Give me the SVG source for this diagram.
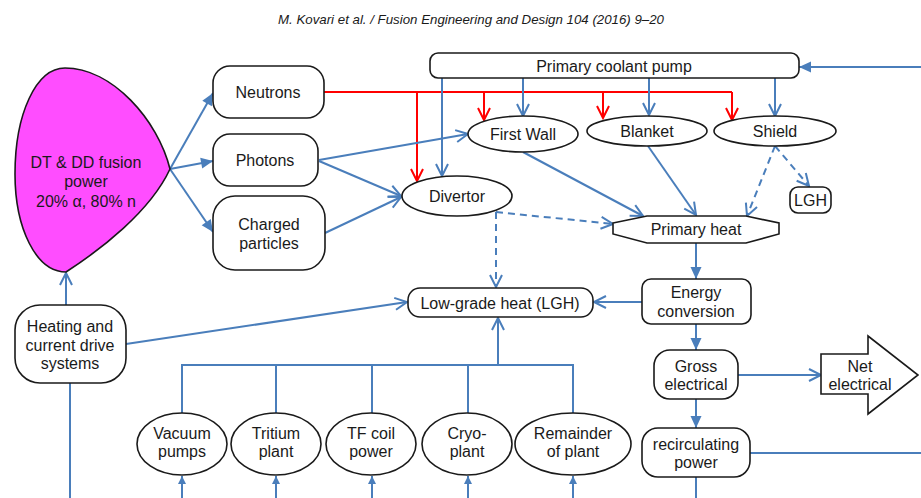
<svg xmlns="http://www.w3.org/2000/svg" width="921" height="498" viewBox="0 0 921 498">
<style>
text{font-family:"Liberation Sans",Arial,sans-serif;font-size:16px;fill:#1a1a1a;text-anchor:middle}
.hdr{font-size:13px;font-style:italic}
.n{fill:#fff;stroke:#1a1a1a;stroke-width:1.6}
.b{fill:none;stroke:#4a7ebb;stroke-width:2}
.r{fill:none;stroke:#ff0000;stroke-width:2}
.d{stroke-dasharray:7 5}
</style>
<defs>
<marker id="av" markerUnits="userSpaceOnUse" markerWidth="16" markerHeight="16" refX="13" refY="7" orient="auto" overflow="visible"><path d="M1,1 L13,7 L1,13" fill="none" stroke="#4a7ebb" stroke-width="2"/></marker>
<marker id="rv" markerUnits="userSpaceOnUse" markerWidth="16" markerHeight="16" refX="13" refY="7" orient="auto" overflow="visible"><path d="M1,1 L13,7 L1,13" fill="none" stroke="#ff0000" stroke-width="2"/></marker>
<marker id="af" markerUnits="userSpaceOnUse" markerWidth="14" markerHeight="14" refX="12" refY="5.5" orient="auto" overflow="visible"><path d="M0,0 L12,5.5 L0,11 Z" fill="#4a7ebb"/></marker>
<marker id="as" markerUnits="userSpaceOnUse" markerWidth="10" markerHeight="10" refX="8" refY="4" orient="auto" overflow="visible"><path d="M0,0 L8,4 L0,8 Z" fill="#4a7ebb"/></marker>
</defs>
<rect width="921" height="498" fill="#fff"/>
<text class="hdr" x="471" y="24" textLength="386" lengthAdjust="spacingAndGlyphs">M. Kovari et al. / Fusion Engineering and Design 104 (2016) 9–20</text>

<g id="connectors">
<line class="b" x1="170" y1="169" x2="213" y2="93" marker-end="url(#af)"/>
<line class="b" x1="170" y1="169" x2="213" y2="161" marker-end="url(#af)"/>
<line class="b" x1="170" y1="169" x2="213" y2="232" marker-end="url(#af)"/>
<line class="b" x1="66" y1="305" x2="66" y2="273" marker-end="url(#av)"/>
<line class="b" x1="70" y1="383" x2="70" y2="498"/>
<line class="b" x1="126" y1="344" x2="407" y2="302" marker-end="url(#av)"/>
<polyline class="r" points="324,92 732,92"/>
<line class="r" x1="417" y1="92" x2="417" y2="181" marker-end="url(#rv)"/>
<line class="r" x1="484" y1="92" x2="484" y2="120" marker-end="url(#rv)"/>
<line class="r" x1="603" y1="92" x2="603" y2="118" marker-end="url(#rv)"/>
<line class="r" x1="732" y1="92" x2="732" y2="120" marker-end="url(#rv)"/>
<line class="b" x1="442" y1="78" x2="442" y2="176" marker-end="url(#av)"/>
<line class="b" x1="523" y1="78" x2="523" y2="116" marker-end="url(#av)"/>
<line class="b" x1="649" y1="78" x2="649" y2="115" marker-end="url(#av)"/>
<line class="b" x1="775" y1="78" x2="775" y2="116" marker-end="url(#av)"/>
<line class="b" x1="921" y1="67" x2="799" y2="67" marker-end="url(#af)"/>
<line class="b" x1="319" y1="160" x2="468" y2="134" marker-end="url(#av)"/>
<line class="b" x1="319" y1="161" x2="401" y2="196" marker-end="url(#av)"/>
<line class="b" x1="325" y1="233" x2="401" y2="197" marker-end="url(#av)"/>
<line class="b" x1="523" y1="152" x2="643" y2="216" marker-end="url(#av)"/>
<line class="b" x1="648" y1="146" x2="696" y2="215" marker-end="url(#av)"/>
<line class="b d" x1="775" y1="146" x2="747" y2="216" marker-end="url(#av)"/>
<line class="b d" x1="775" y1="146" x2="809" y2="186" marker-end="url(#av)"/>
<line class="b d" x1="496" y1="212" x2="496" y2="287" marker-end="url(#av)"/>
<line class="b d" x1="496" y1="212" x2="613" y2="224" marker-end="url(#av)"/>
<line class="b" x1="696" y1="243" x2="696" y2="279" marker-end="url(#af)"/>
<line class="b" x1="642" y1="302" x2="594" y2="302" marker-end="url(#av)"/>
<line class="b" x1="696" y1="324" x2="696" y2="350" marker-end="url(#af)"/>
<line class="b" x1="738" y1="375" x2="821" y2="375" marker-end="url(#av)"/>
<line class="b" x1="696" y1="399" x2="696" y2="428" marker-end="url(#af)"/>
<line class="b" x1="750" y1="453" x2="921" y2="453"/>
<line class="b" x1="696" y1="477" x2="696" y2="498"/>
<polyline class="b" points="182,413 182,365 573,365 573,413"/>
<line class="b" x1="276" y1="365" x2="276" y2="413"/>
<line class="b" x1="372" y1="365" x2="372" y2="413"/>
<line class="b" x1="468" y1="365" x2="468" y2="413"/>
<line class="b" x1="498" y1="365" x2="498" y2="318" marker-end="url(#av)"/>
<line class="b" x1="182" y1="498" x2="182" y2="476" marker-end="url(#as)"/>
<line class="b" x1="276" y1="498" x2="276" y2="476" marker-end="url(#as)"/>
<line class="b" x1="372" y1="498" x2="372" y2="476" marker-end="url(#as)"/>
<line class="b" x1="468" y1="498" x2="468" y2="476" marker-end="url(#as)"/>
<line class="b" x1="573" y1="498" x2="573" y2="476" marker-end="url(#as)"/>
</g>

<g id="plasma">
<path d="M65,68 C112,68 158,120 170,169 C150,212 100,250 66,272 C36,272 15,228 15,174 C15,114 36,68 65,68 Z" fill="#ff4dff" stroke="#1a1a1a" stroke-width="1.6"/>
<text x="86" y="168">DT &amp; DD fusion</text>
<text x="86" y="187">power</text>
<text x="86" y="207">20% α, 80% n</text>
</g>
<g id="neutrons"><rect class="n" x="213" y="66" width="111" height="52" rx="17"/><text x="268" y="98">Neutrons</text></g>
<g id="photons"><rect class="n" x="213" y="134" width="105" height="52" rx="17"/><text x="265" y="166">Photons</text></g>
<g id="charged"><rect class="n" x="213" y="196" width="112" height="74" rx="22"/><text x="269" y="230">Charged</text><text x="269" y="249">particles</text></g>
<g id="heating"><rect class="n" x="15" y="305" width="111" height="78" rx="25"/><text x="70" y="332">Heating and</text><text x="70" y="350.5">current drive</text><text x="70" y="369">systems</text></g>
<g id="pump"><rect class="n" x="430" y="53" width="369" height="25" rx="8"/><text x="614" y="72">Primary coolant pump</text></g>
<g id="firstwall"><ellipse class="n" cx="523" cy="134" rx="55" ry="18"/><text x="523" y="140">First Wall</text></g>
<g id="blanket"><ellipse class="n" cx="647" cy="131" rx="60" ry="15"/><text x="647" y="137">Blanket</text></g>
<g id="shield"><ellipse class="n" cx="775" cy="131" rx="61" ry="15"/><text x="775" y="137">Shield</text></g>
<g id="lgh-small"><rect class="n" x="790" y="187" width="41" height="26" rx="8"/><text x="810.5" y="206">LGH</text></g>
<g id="divertor"><ellipse class="n" cx="457" cy="196" rx="55" ry="20"/><text x="457" y="202">Divertor</text></g>
<g id="primaryheat"><polygon class="n" points="613,223 647,216 746,216 779,223 779,234 746,243 647,243 613,234"/><text x="696" y="235">Primary heat</text></g>
<g id="lgh"><rect class="n" x="408" y="288" width="185" height="29" rx="12"/><text x="500" y="308.5">Low-grade heat (LGH)</text></g>
<g id="energy"><rect class="n" x="642" y="279" width="109" height="45" rx="9"/><text x="696" y="298">Energy</text><text x="696" y="316.5">conversion</text></g>
<g id="gross"><rect class="n" x="654" y="350" width="84" height="49" rx="16"/><text x="696" y="371.5">Gross</text><text x="696" y="390">electrical</text></g>
<g id="net"><polygon class="n" points="821,354 868,354 868,336 918,375 868,414 868,394 821,394"/><text x="860" y="371.5">Net</text><text x="860" y="390">electrical</text></g>
<g id="recirc"><rect class="n" x="642" y="428" width="108" height="49" rx="16"/><text x="696" y="450">recirculating</text><text x="696" y="468">power</text></g>
<g id="vacuum"><ellipse class="n" cx="182" cy="444" rx="45" ry="31"/><text x="182" y="439">Vacuum</text><text x="182" y="457">pumps</text></g>
<g id="tritium"><ellipse class="n" cx="276" cy="444" rx="45" ry="31"/><text x="276" y="439">Tritium</text><text x="276" y="457">plant</text></g>
<g id="tfcoil"><ellipse class="n" cx="371" cy="444" rx="45" ry="31"/><text x="371" y="439">TF coil</text><text x="371" y="457">power</text></g>
<g id="cryo"><ellipse class="n" cx="467" cy="444" rx="45" ry="31"/><text x="467" y="439">Cryo-</text><text x="467" y="457">plant</text></g>
<g id="remainder"><ellipse class="n" cx="573" cy="444" rx="58" ry="31"/><text x="573" y="439">Remainder</text><text x="573" y="457">of plant</text></g>
</svg>
